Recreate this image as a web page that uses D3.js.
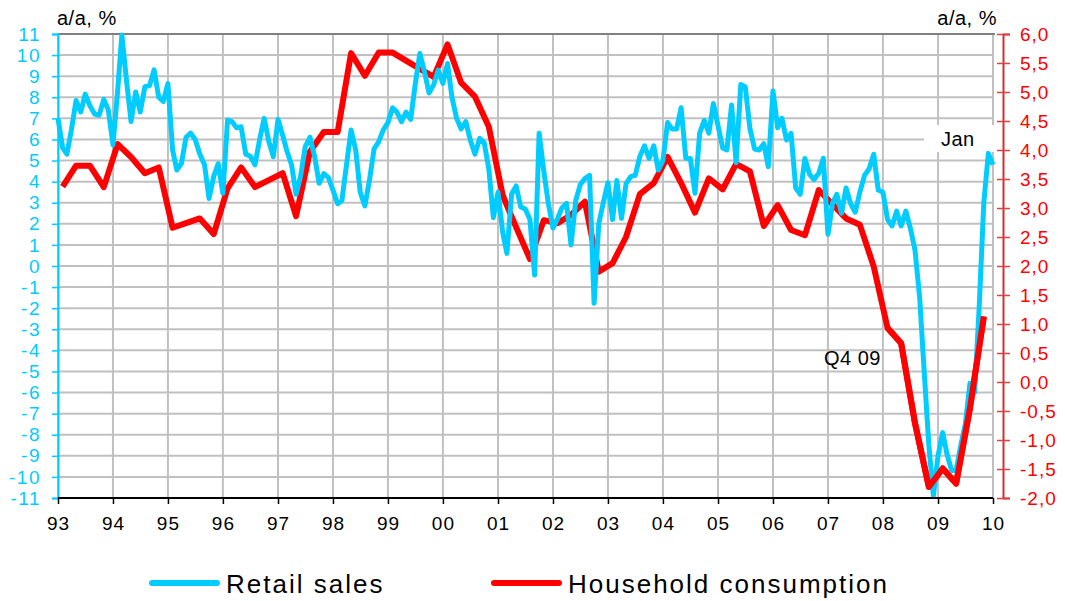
<!DOCTYPE html>
<html>
<head>
<meta charset="utf-8">
<script src="https://cdn.jsdelivr.net/npm/d3@7"></script>
<style>
  body { margin: 0; background: #fff; }
  svg text { font-family: "Liberation Sans", Arial, sans-serif; }
</style>
</head>
<body>
<div id="chart"></div>
<script>
// retail sales, monthly from Jan 1993 to Jan 2010 (left axis, a/a %)
var retailStart = new Date(1993, 0, 1);
var retailSales = [
  7.0, 5.6, 5.3, 6.5, 7.85, 7.3, 8.15, 7.6, 7.2, 7.15, 7.9, 7.4,
  5.75, 8.3, 10.95, 8.8, 6.85, 8.25, 7.3, 8.5, 8.55, 9.3, 8.0, 7.8,
  8.65, 5.5, 4.55, 4.87, 6.1, 6.3, 6.0, 5.3, 4.8, 3.2, 4.25, 4.85,
  3.45, 6.92, 6.85, 6.55, 6.6, 5.3, 5.2, 4.8, 6.0, 7.0, 5.9, 5.18,
  6.95, 6.2, 5.45, 4.8, 3.4, 4.3, 5.66, 6.1, 5.2, 3.92, 4.38, 4.2,
  3.6, 2.95, 3.1, 4.8, 6.45, 5.5, 3.5, 2.85, 4.1, 5.55, 5.9, 6.45,
  6.8, 7.5, 7.3, 6.84, 7.3, 6.95, 8.6, 10.08, 9.2, 8.2, 8.6, 9.29,
  8.66, 9.6, 8.0, 7.0, 6.5, 6.85, 5.97, 5.3, 6.05, 5.85, 4.6, 2.3,
  3.5, 1.6, 0.6, 3.4, 3.8, 2.8, 2.7, 2.2, -0.43, 6.3, 4.5, 2.97,
  1.8, 2.25, 2.75, 2.97, 1.0, 3.1, 3.85, 4.15, 4.3, -1.77, 2.0, 3.0,
  3.95, 2.2, 4.05, 2.26, 3.9, 4.24, 4.3, 5.2, 5.7, 5.1, 5.7, 4.55,
  5.0, 6.8, 6.5, 6.5, 7.5, 5.11, 5.1, 3.45, 6.3, 6.9, 6.3, 7.7,
  6.65, 5.6, 5.5, 7.63, 4.9, 8.6, 8.5, 6.5, 5.55, 5.5, 5.8, 4.71,
  8.3, 6.55, 7.0, 5.97, 6.29, 3.7, 3.4, 5.1, 4.35, 4.1, 4.4, 5.11,
  1.5, 3.0, 3.4, 2.5, 3.7, 2.95, 2.55, 3.5, 4.3, 4.6, 5.3, 3.6,
  3.5, 2.2, 1.9, 2.6, 1.9, 2.6, 1.8, 0.76, -1.5, -5.0, -8.5, -10.9,
  -9.0, -7.9, -8.9, -9.7, -9.7, -8.5, -7.5, -5.56, -6.0, -2.0, 3.0, 5.34,
  4.8
];

// household consumption, quarterly from Q1 93 to Q4 09 (right axis, a/a %)
var consumptionStart = new Date(1993, 1, 1);
var householdConsumption = [
  3.37, 3.73, 3.73, 3.36, 4.10, 3.88, 3.60, 3.70,
  2.66, 2.74, 2.82, 2.55, 3.34, 3.70, 3.36, 3.48,
  3.60, 2.86, 3.97, 4.31, 4.31, 5.67, 5.28, 5.68,
  5.68, 5.54, 5.40, 5.26, 5.82, 5.16, 4.92, 4.40,
  3.22, 2.67, 2.12, 2.79, 2.74, 2.88, 3.11, 1.90,
  2.05, 2.50, 3.24, 3.43, 3.88, 3.43, 2.92, 3.51,
  3.32, 3.76, 3.63, 2.69, 3.05, 2.62, 2.53, 3.31,
  3.06, 2.82, 2.71, 1.99, 0.93, 0.67, -0.71, -1.81,
  -1.49, -1.75, -0.45, 1.13
];

var leftTicks = d3.range(-11, 12);
var rightTicks = d3.range(-2, 6.01, 0.5);
var yearTicks = d3.timeYear.range(new Date(1993, 0, 1), new Date(2010, 0, 2));

var seriesNames = ["Retail sales", "Household consumption"];
var cyan = "#00ccff", red = "#ff0000";

var width = 1065, height = 601;
var plot = { left: 58, right: 993, top: 34, bottom: 498 };

var svg = d3.select("#chart")
  .append("svg")
  .attr("width", width)
  .attr("height", height);

var x = d3.scaleTime()
  .domain([new Date(1993, 0, 1), new Date(2010, 0, 1)])
  .range([plot.left, plot.right]);

var yL = d3.scaleLinear().domain([-11, 11]).range([plot.bottom, plot.top]);
var yR = d3.scaleLinear().domain([-2, 6]).range([plot.bottom, plot.top]);

// gridlines
var grid = svg.append("g").attr("stroke", "#c0c0c0").attr("stroke-width", 2);
grid.selectAll(".h")
  .data(leftTicks)
  .enter().append("line")
  .attr("x1", plot.left).attr("x2", plot.right)
  .attr("y1", d => yL(d)).attr("y2", d => yL(d));
grid.selectAll(".v")
  .data(yearTicks)
  .enter().append("line")
  .attr("x1", d => x(d)).attr("x2", d => x(d))
  .attr("y1", plot.top).attr("y2", plot.bottom);

// top border
svg.append("line")
  .attr("x1", plot.left).attr("x2", plot.right + 2)
  .attr("y1", plot.top).attr("y2", plot.top)
  .attr("stroke", "#808080").attr("stroke-width", 2);

// annotations
svg.append("rect")
  .attr("x", 924).attr("y", 125)
  .attr("width", 70).attr("height", 27)
  .attr("fill", "#fff");
svg.append("text")
  .attr("x", 941).attr("y", 146)
  .attr("font-size", 20)
  .attr("letter-spacing", 0.5)
  .text("Jan");
svg.append("text")
  .attr("x", 824).attr("y", 365)
  .attr("font-size", 20)
  .attr("letter-spacing", 0.5)
  .text("Q4 09");

// lines
var retailLine = d3.line()
  .x((d, i) => x(d3.timeMonth.offset(retailStart, i)))
  .y(d => yL(d));
var consLine = d3.line()
  .x((d, i) => x(d3.timeMonth.offset(consumptionStart, i * 3)))
  .y(d => yR(d));

svg.append("path")
  .datum(householdConsumption)
  .attr("fill", "none")
  .attr("stroke", red)
  .attr("stroke-width", 6)
  .attr("stroke-linejoin", "round")
  .attr("d", consLine);

svg.append("path")
  .datum(retailSales)
  .attr("fill", "none")
  .attr("stroke", cyan)
  .attr("stroke-width", 5)
  .attr("stroke-linejoin", "round")
  .attr("d", retailLine);

// the red line sits above the blue one near the end of 2009
svg.append("path")
  .datum(householdConsumption.slice(60))
  .attr("fill", "none")
  .attr("stroke", red)
  .attr("stroke-width", 6)
  .attr("stroke-linejoin", "round")
  .attr("d", d3.line()
    .x((d, i) => x(d3.timeMonth.offset(consumptionStart, (i + 60) * 3)))
    .y(d => yR(d)));

// left axis
var gL = svg.append("g")
  .attr("transform", `translate(${plot.left},0)`)
  .call(d3.axisLeft(yL).tickValues(leftTicks).tickFormat(d => String(d)).tickSize(6).tickPadding(11));
gL.select(".domain").attr("stroke", cyan).attr("stroke-width", 2);
gL.selectAll(".tick line").attr("stroke", cyan).attr("stroke-width", 1.5);
gL.selectAll(".tick text")
  .attr("fill", cyan)
  .attr("font-size", 19)
  .attr("letter-spacing", 1.5)
  .attr("font-family", "Liberation Sans, Arial, sans-serif");

// right axis
var gR = svg.append("g")
  .attr("transform", "translate(1003,0)")
  .call(d3.axisRight(yR).tickValues(rightTicks)
    .tickFormat(d => d.toFixed(1).replace(".", ","))
    .tickSize(7).tickPadding(10));
gR.select(".domain").attr("stroke", "#cc3333").attr("stroke-width", 2);
gR.selectAll(".tick line").attr("x1", -6).attr("stroke", "#e04040").attr("stroke-width", 1.5);
gR.selectAll(".tick text")
  .attr("fill", red)
  .attr("font-size", 19)
  .attr("letter-spacing", 1)
  .attr("font-family", "Liberation Sans, Arial, sans-serif");

// bottom axis
var gB = svg.append("g")
  .attr("transform", `translate(0,${plot.bottom})`)
  .call(d3.axisBottom(x).tickValues(yearTicks).tickFormat(d3.timeFormat("%y")).tickSize(6).tickPadding(13));
gB.select(".domain").attr("stroke", "#000").attr("stroke-width", 2).attr("d", `M${plot.left},0H${plot.right}`);
gB.selectAll(".tick line").attr("stroke", "#000").attr("stroke-width", 1.5);
gB.selectAll(".tick text")
  .attr("fill", "#000")
  .attr("font-size", 19)
  .attr("letter-spacing", 1)
  .attr("font-family", "Liberation Sans, Arial, sans-serif");

// axis titles
svg.append("text")
  .attr("x", 57).attr("y", 25)
  .attr("font-size", 20)
  .attr("letter-spacing", 0.5)
  .text("a/a, %");
svg.append("text")
  .attr("x", 997).attr("y", 25)
  .attr("text-anchor", "end")
  .attr("font-size", 20)
  .attr("letter-spacing", 0.5)
  .text("a/a, %");

// legend
var legend = svg.append("g")
  .selectAll("g")
  .data(seriesNames)
  .enter().append("g")
  .attr("transform", (d, i) => `translate(${i === 0 ? 152 : 494},0)`);

legend.append("line")
  .attr("x1", 0).attr("x2", 65)
  .attr("y1", 583).attr("y2", 583)
  .attr("stroke", (d, i) => i === 0 ? cyan : red)
  .attr("stroke-width", 6)
  .attr("stroke-linecap", "round");

legend.append("text")
  .attr("x", 74).attr("y", 593)
  .attr("font-size", 26)
  .attr("letter-spacing", 2)
  .text(d => d);
</script>
</body>
</html>
